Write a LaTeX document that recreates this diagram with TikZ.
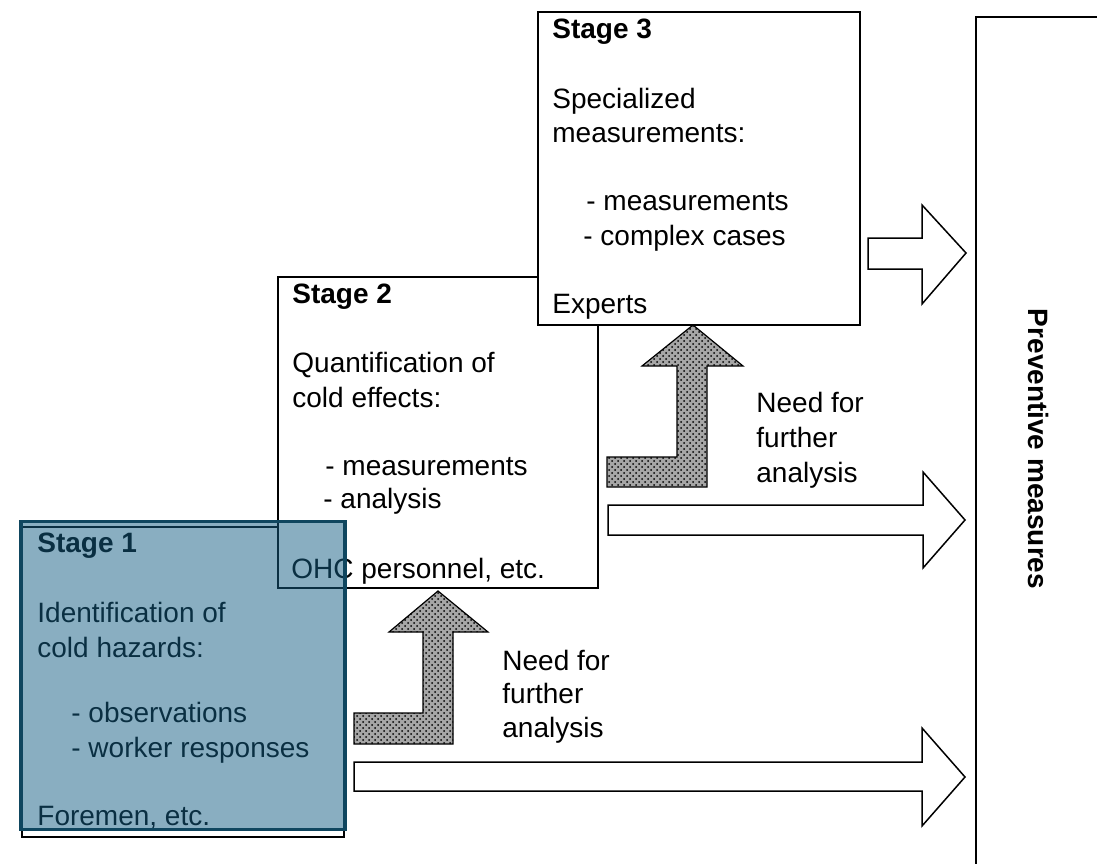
\documentclass[tikz,border=0pt]{standalone}
\usepackage{fontspec}
\setmainfont{Liberation Sans}
\usetikzlibrary{patterns}
\definecolor{ovl}{RGB}{21,95,133}
\definecolor{ovlborder}{RGB}{15,70,95}
\begin{document}
\begin{tikzpicture}[x=0.5pt,y=-0.5pt,
  txt/.style={anchor=base west,inner sep=0pt,font=\fontsize{14}{17}\selectfont},
  boxline/.style={draw=black,line width=0.8pt},
  blockarrow/.style={draw=black,line width=0.75pt,fill=white,line join=miter},
  hatch/.style={draw=black,line width=0.6pt,fill=gray!70,postaction={pattern=crosshatch dots,pattern color=black}}]
\useasboundingbox (0,0) rectangle (1097,863);
\fill[white] (0,0) rectangle (1097,863);

% Stage 1 (underlying box)
\draw[boxline,fill=white] (22,527) rectangle (344,837);
\node[txt] (s1t) at (37,552) {\textbf{Stage 1}};
\node[txt] (s1a) at (37,622) {Identification of};
\node[txt] (s1b) at (37,657) {cold hazards:};
\node[txt] (s1c) at (71,722) {- observations};
\node[txt] (s1d) at (71,757) {- worker responses};
\node[txt] (s1e) at (37,825) {Foremen, etc.};

% Stage 2
\draw[boxline,fill=white] (278,277) rectangle (598,588);
\node[txt] (s2t) at (292,303) {\textbf{Stage 2}};
\node[txt] (s2a) at (292,372) {Quantification of};
\node[txt] (s2b) at (292,407) {cold effects:};
\node[txt] (s2c) at (325,475) {- measurements};
\node[txt] (s2d) at (323,508) {- analysis};
\node[txt] (s2e) at (291,578) {OHC personnel, etc.};

% Stage 3
\draw[boxline,fill=white] (538,12) rectangle (860,325);
\node[txt] (s3t) at (552,38) {\textbf{Stage 3}};
\node[txt] (s3a) at (552,108) {Specialized};
\node[txt] (s3b) at (552,142) {measurements:};
\node[txt] (s3c) at (586,210) {- measurements};
\node[txt] (s3d) at (583,245) {- complex cases};
\node[txt] (s3e) at (552,313) {Experts};

% Stage 1 overlay
\draw[draw=ovlborder,line width=1.7pt,fill=ovl,fill opacity=0.5] (21,521.5) rectangle (345,829.5);

% Preventive measures box
\draw[boxline] (976,17) rectangle (1130,900);
\node[font=\bfseries\fontsize{14}{17}\selectfont,rotate=-90,inner sep=0pt] (pm) at (1038,449) {Preventive measures};

% white block arrows
\draw[blockarrow] (868,238) -- (922,238) -- (922,205) -- (966,253) -- (922,304) -- (922,269) -- (868,269) -- cycle;
\draw[blockarrow] (608,505) -- (923,505) -- (923,472) -- (965,520) -- (923,568) -- (923,535) -- (608,535) -- cycle;
\draw[blockarrow] (354,762) -- (922,762) -- (922,728) -- (965,777) -- (922,826) -- (922,791) -- (354,791) -- cycle;

% hatched L arrows
\draw[hatch] (354,713) -- (423,713) -- (423,632) -- (389,632) -- (438,591) -- (488,632) -- (453,632) -- (453,744) -- (354,744) -- cycle;
\draw[hatch] (607,457) -- (677,457) -- (677,366) -- (642,366) -- (693,325) -- (743,366) -- (707,366) -- (707,487) -- (607,487) -- cycle;

% labels
\node[txt] (n1a) at (502,670) {Need for};
\node[txt] (n1b) at (502,703) {further};
\node[txt] (n1c) at (502,737) {analysis};
\node[txt] (n2a) at (756,412) {Need for};
\node[txt] (n2b) at (756,447) {further};
\node[txt] (n2c) at (756,482) {analysis};
\end{tikzpicture}
\end{document}
